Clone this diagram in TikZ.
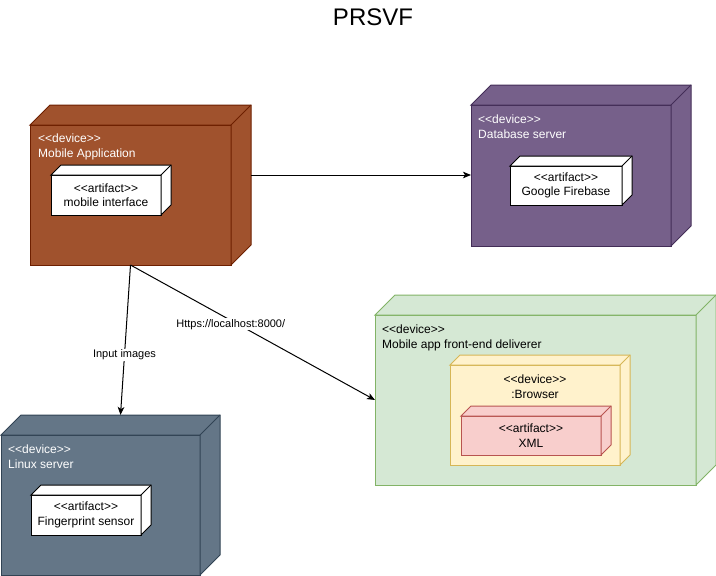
\documentclass[tikz,border=0pt]{standalone}
\usepackage{fontspec}
\setmainfont{Liberation Sans}
\usetikzlibrary{arrows.meta,positioning,calc}
\definecolor{SiennaFill}{HTML}{a0522d}
\definecolor{SiennaLine}{HTML}{6d1f00}
\definecolor{PlumFill}{HTML}{76608a}
\definecolor{PlumLine}{HTML}{432d57}
\definecolor{SlateFill}{HTML}{647687}
\definecolor{SlateLine}{HTML}{314354}
\definecolor{MintFill}{HTML}{d5e8d4}
\definecolor{MintLine}{HTML}{82b366}
\definecolor{CreamFill}{HTML}{fff2cc}
\definecolor{CreamLine}{HTML}{d6b656}
\definecolor{RoseFill}{HTML}{f8cecc}
\definecolor{RoseLine}{HTML}{b85450}
% stereotype text, braces keep << and >> from turning into guillemets
\newcommand{\stype}[1]{<{}<#1>{}>}
% top and right faces of a 3D box drawn next to a node
\newcommand{\boxsides}[3]{%
  \draw[face, #3] (#1.north west) -- ++(#2,#2) -- ([shift={(#2,#2)}]#1.north east)
    -- ([shift={(#2,#2)}]#1.south east) -- (#1.south east) -- (#1.north east) -- cycle;
  \draw[face, #3] (#1.north east) -- ++(#2,#2);}

\begin{document}
\begin{tikzpicture}[x=1pt, y=-1pt,
    face/.style={line width=1pt, line join=miter},
    cube/.style={face, rectangle, inner sep=0pt, outer sep=0pt},
    head/.style={anchor=north west, inner sep=0pt, align=left,
                 font=\fontsize{12}{14.5}\selectfont},
    body/.style={inner sep=0pt, align=center, font=\fontsize{12}{14.5}\selectfont},
    link/.style={-{Stealth[length=8pt, width=6.5pt, inset=2pt]}, line width=1pt},
    lbl/.style={fill=white, inner sep=1pt, font=\fontsize{11}{13}\selectfont},
  ]
    \useasboundingbox (0,0) rectangle (716,576);
    % title
    \node[anchor=base, font=\fontsize{24}{28}\selectfont] (title) at (373,25) {PRSVF};

    % Mobile Application
    \node[cube, fill=SiennaFill, draw=SiennaLine, minimum width=201pt, minimum height=140pt] (mob) at (130.5,195) {};
    \boxsides{mob}{20pt}{fill=SiennaFill, draw=SiennaLine}
    \node[head, text=white] (mobT) at (38,134) {\stype{device}\\Mobile Application};
    \node[cube, fill=white, draw=black, minimum width=110pt, minimum height=40pt] (mobint) at (106,195) {};
    \boxsides{mobint}{10pt}{fill=white, draw=black}
    \node[body] (mobintT) at (mobint.center) {\stype{artifact}\\mobile interface};

    % Database server
    \node[cube, fill=PlumFill, draw=PlumLine, minimum width=200pt, minimum height=141pt] (db) at (571,175.5) {};
    \boxsides{db}{20pt}{fill=PlumFill, draw=PlumLine}
    \node[head, text=white] (dbT) at (478,115) {\stype{device}\\Database server};
    \node[cube, fill=white, draw=black, minimum width=112pt, minimum height=39pt] (fire) at (566,185.5) {};
    \boxsides{fire}{10pt}{fill=white, draw=black}
    \node[body] (fireT) at (fire.center) {\stype{artifact}\\Google Firebase};

    % Mobile app front-end deliverer
    \node[cube, fill=MintFill, draw=MintLine, minimum width=321pt, minimum height=170pt] (fe) at (535.5,400) {};
    \boxsides{fe}{20pt}{fill=MintFill, draw=MintLine}
    \node[head] (feT) at (382,325) {\stype{device}\\Mobile app front-end deliverer};
    \node[cube, fill=CreamFill, draw=CreamLine, minimum width=170pt, minimum height=100pt] (brow) at (535,415) {};
    \boxsides{brow}{10pt}{fill=CreamFill, draw=CreamLine}
    \node[body, anchor=north] (browT) at (535,375) {\stype{device}\\:Browser};
    \node[cube, fill=RoseFill, draw=RoseLine, minimum width=140pt, minimum height=39pt] (xml) at (531,435.5) {};
    \boxsides{xml}{10pt}{fill=RoseFill, draw=RoseLine}
    \node[body] (xmlT) at (xml.center) {\stype{artifact}\\XML};

    % Linux server
    \node[cube, fill=SlateFill, draw=SlateLine, minimum width=199pt, minimum height=140pt] (lin) at (100.5,505) {};
    \boxsides{lin}{20pt}{fill=SlateFill, draw=SlateLine}
    \node[head, text=white] (linT) at (8,445) {\stype{device}\\Linux server};
    \node[cube, fill=white, draw=black, minimum width=110pt, minimum height=40pt] (finger) at (86,515) {};
    \boxsides{finger}{10pt}{fill=white, draw=black}
    \node[body] (fingerT) at (finger.center) {\stype{artifact}\\Fingerprint sensor};

    % connectors
    \coordinate (mobR) at ([xshift=20pt, yshift=20pt]mob.east);
    \draw[link] (mobR) -- (mobR -| db.west);
    \draw[link] (mob.south) -- node[lbl, pos=0.6] {Input images} ([xshift=20pt, yshift=20pt]lin.north);
    \draw[link] (mob.south) -- node[lbl, pos=0.41, yshift=-4pt] {Https://localhost:8000/} (fe.west);
\end{tikzpicture}
\end{document}
